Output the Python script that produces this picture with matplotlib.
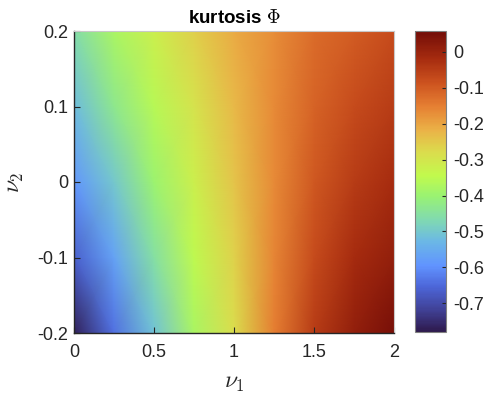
import numpy as np
import matplotlib
matplotlib.use("Agg")
import matplotlib.pyplot as plt
from matplotlib.colors import LinearSegmentedColormap

nu1 = [0.0, 0.25, 0.5, 0.75, 1.0, 1.25, 1.5, 1.75, 2.0]
nu2 = [-0.2, -0.1, 0.0, 0.1, 0.2]
kurt_m02 = [-0.77, -0.64, -0.51, -0.38, -0.28, -0.15, -0.05, 0.01, 0.05]
kurt_m01 = [-0.665, -0.57, -0.455, -0.35, -0.265, -0.16, -0.075, -0.02, 0.01]
kurt_00 = [-0.59, -0.50, -0.40, -0.32, -0.245, -0.165, -0.095, -0.05, -0.02]
kurt_p01 = [-0.52, -0.43, -0.36, -0.295, -0.23, -0.165, -0.11, -0.075, -0.05]
kurt_p02 = [-0.46, -0.38, -0.32, -0.26, -0.21, -0.17, -0.125, -0.10, -0.075]
clim = (-0.78, 0.058)
xticks = [0, 0.5, 1, 1.5, 2]
xticklabels = ["0", "0.5", "1", "1.5", "2"]
yticks = [-0.2, -0.1, 0, 0.1, 0.2]
yticklabels = ["-0.2", "-0.1", "0", "0.1", "0.2"]
cticks = [0, -0.1, -0.2, -0.3, -0.4, -0.5, -0.6, -0.7]
cticklabels = ["0", "-0.1", "-0.2", "-0.3", "-0.4", "-0.5", "-0.6", "-0.7"]

# colormap sampled from the reference colorbar (turbo-like)
cmap_pos = [0.0, 0.07, 0.15, 0.22, 0.30, 0.37, 0.45, 0.52, 0.60, 0.67, 0.75, 0.83, 0.91, 1.0]
cmap_rgb = [(0.18, 0.10, 0.30), (0.25, 0.25, 0.58), (0.30, 0.40, 0.85), (0.38, 0.58, 1.0),
            (0.42, 0.72, 0.90), (0.50, 0.85, 0.70), (0.60, 0.95, 0.45), (0.76, 0.98, 0.30),
            (0.86, 0.86, 0.30), (0.92, 0.70, 0.28), (0.90, 0.50, 0.20), (0.80, 0.32, 0.12),
            (0.65, 0.17, 0.06), (0.45, 0.05, 0.03)]
cmap = LinearSegmentedColormap.from_list('refturbo', list(zip(cmap_pos, cmap_rgb)), N=256)

plt.rcParams['font.family'] = ['Liberation Sans', 'DejaVu Sans']
plt.rcParams['mathtext.fontset'] = 'cm'
fs = 13

Z = np.array([kurt_m02, kurt_m01, kurt_00, kurt_p01, kurt_p02])
X, Y = np.meshgrid(nu1, nu2)

fig = plt.figure(figsize=(4.84, 4.01), dpi=100)
ax = fig.add_axes([74/484, 1-333/401, 320/484, 302/401])
m = ax.pcolormesh(X, Y, Z, shading='gouraud', cmap=cmap, vmin=clim[0], vmax=clim[1])
ax.set_xlim(0, 2)
ax.set_ylim(-0.2, 0.2)
ax.set_xticks(xticks)
ax.set_xticklabels(xticklabels)
ax.set_yticks(yticks)
ax.set_yticklabels(yticklabels)
ax.tick_params(direction='in', length=4, width=0.8, labelsize=fs, colors='#262626', pad=4)
ax.tick_params(axis='x', pad=8)
for s in ['left', 'bottom']:
    ax.spines[s].set_color('#262626')
    ax.spines[s].set_linewidth(1.0)
for s in ['top', 'right']:
    ax.spines[s].set_color('#c8c8c8')
    ax.spines[s].set_linewidth(0.8)
ax.set_title(r'kurtosis $\Phi$', fontsize=13.5, fontweight='bold', pad=6)
ax.set_xlabel(r'$\nu_1$', fontsize=17, color='#262626', labelpad=8)
ax.set_ylabel(r'$\nu_2$', fontsize=17, color='#262626', labelpad=8)

cax = fig.add_axes([415/484, 1-332/401, 31/484, 301/401])
cb = fig.colorbar(m, cax=cax)
cb.set_ticks(cticks)
cb.set_ticklabels(cticklabels)
cax.tick_params(direction='in', length=3, width=0.8, labelsize=fs, colors='#262626', pad=5)
cb.outline.set_edgecolor('#808080')
cb.outline.set_linewidth(0.8)

fig.savefig('out.png', dpi=100)
